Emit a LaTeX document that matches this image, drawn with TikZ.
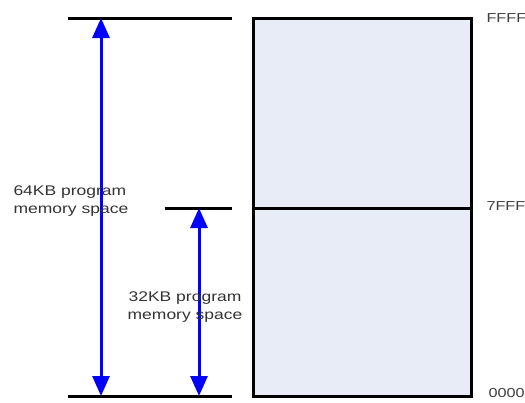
\documentclass[tikz,border=0pt]{standalone}
\usepackage{xcolor}
\usepackage{fontspec}
\usepackage{tikz}
\usetikzlibrary{arrows.meta}
\newfontfamily\lblfont[FakeStretch=1.25]{Liberation Sans}
\definecolor{memfill}{RGB}{231,236,247}
\definecolor{spanblue}{RGB}{0,0,255}

\begin{document}
\begin{tikzpicture}[x=1pt, y=-1pt, line width=3pt,
    span/.style={draw=spanblue, {Triangle[width=17pt,length=20pt]}-{Triangle[width=17pt,length=20pt]}},
    addr/.style={anchor=west, inner sep=0pt, font=\lblfont\fontsize{13}{16}\selectfont, text=black!75},
    size/.style={inner sep=0pt, font=\lblfont\fontsize{14}{18}\selectfont, text=black!80}]
    \useasboundingbox (0,0) rectangle (525,402);
    % memory block
    \draw[fill=memfill] (253,18) rectangle (471,396);
    \draw (253,208) -- (471,208);
    % boundary marks
    \coordinate (top l) at (68,18);   \coordinate (top r) at (232,18);
    \coordinate (mid l) at (165,208); \coordinate (mid r) at (232,208);
    \coordinate (bot l) at (68,396);  \coordinate (bot r) at (232,396);
    \draw (top l) -- (top r);
    \draw (mid l) -- (mid r);
    \draw (bot l) -- (bot r);
    % spans
    \coordinate (full top) at (101,18);  \coordinate (full bot) at (101,396);
    \coordinate (half top) at (199,208); \coordinate (half bot) at (199,396);
    \draw[span] (full top) -- (full bot);
    \draw[span] (half top) -- (half bot);
    \node[size, anchor=north west, align=left] (full lbl) at (12,184) {64KB program\\memory space};
    \node[size, anchor=north, align=center] (half lbl) at (185,290) {32KB program\\memory space};
    % addresses
    \node[addr] (a ffff) at (485,18) {FFFF};
    \node[addr] (a 7fff) at (485,206) {7FFF};
    \node[addr] (a 0000) at (487,393) {0000};
\end{tikzpicture}
\end{document}
